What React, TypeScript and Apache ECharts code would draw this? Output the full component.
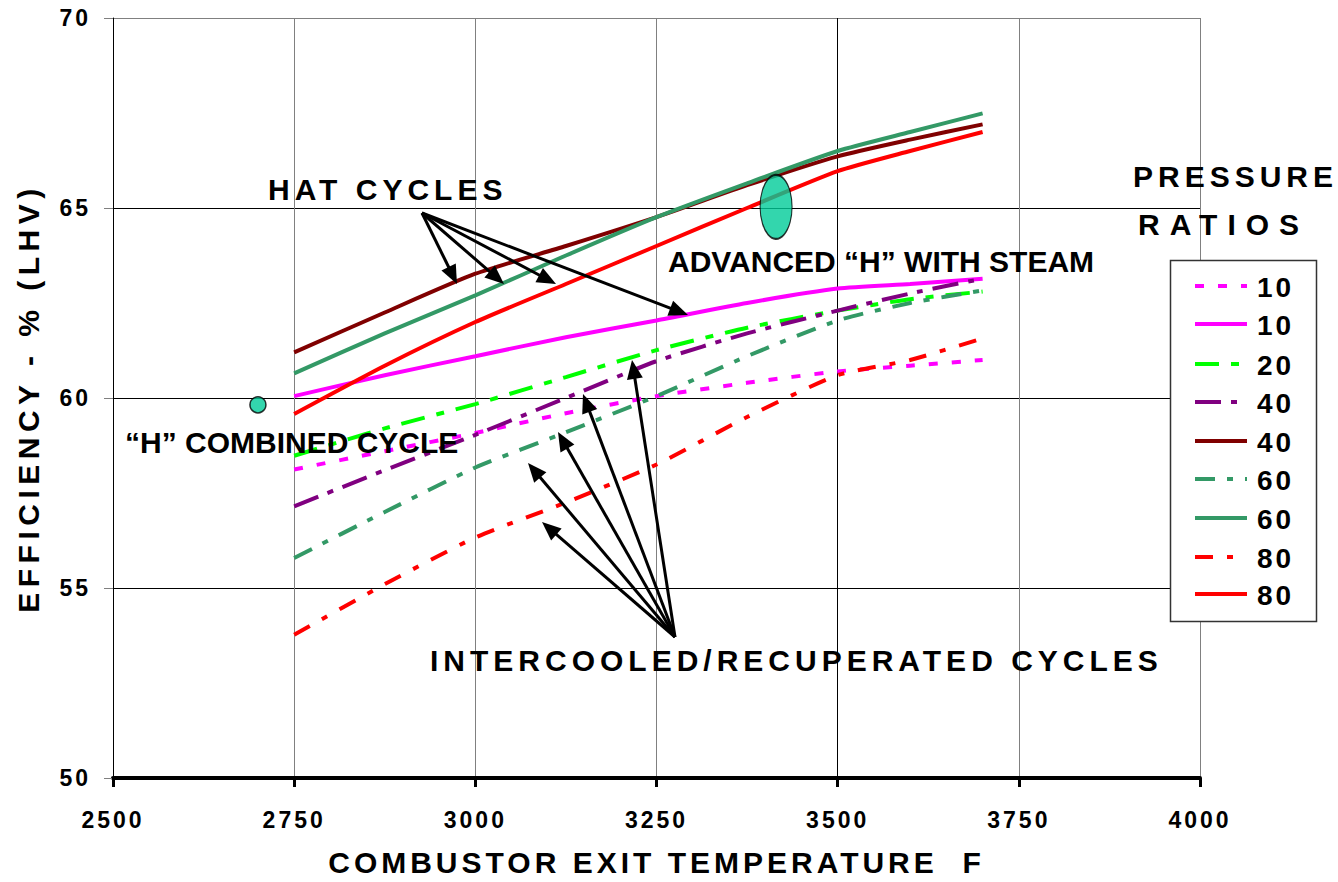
import React, { useEffect, useRef } from "react";
import * as echarts from "echarts";

// ---- data ----
const temps = [2750, 2875, 3000, 3125, 3250, 3375, 3500, 3600, 3700];
const ic10 = [58.12, 58.6, 59.08, 59.6, 60.05, 60.4, 60.7, 60.85, 61.0];
const hat10 = [60.05, 60.6, 61.1, 61.6, 62.04, 62.5, 62.88, 63.0, 63.14];
const ic20 = [58.48, 59.2, 59.84, 60.55, 61.26, 61.85, 62.3, 62.6, 62.8];
const ic40 = [57.15, 58.1, 59.03, 60.0, 60.97, 61.7, 62.3, 62.75, 63.14];
const hat40 = [61.2, 62.25, 63.27, 64.0, 64.76, 65.6, 66.36, 66.8, 67.2];
const ic60 = [55.79, 57.0, 58.17, 59.1, 60.05, 61.1, 62.04, 62.5, 62.83];
const hat60 = [60.65, 61.7, 62.7, 63.75, 64.76, 65.65, 66.5, 67.0, 67.49];
const ic80 = [53.77, 55.1, 56.33, 57.25, 58.25, 59.5, 60.6, 61.0, 61.57];
const hat80 = [59.58, 60.85, 62.0, 63.0, 64.0, 65.0, 65.97, 66.5, 67.0];

const legendNames = ["10", "10", "20", "40", "40", "60", "60", "80", "80"];
const seriesValues = [ic10, hat10, ic20, ic40, hat40, ic60, hat60, ic80, hat80];
const seriesColors = ["#FF00FF", "#FF00FF", "#00FF00", "#800080", "#800000", "#339966", "#339966", "#FF0000", "#FF0000"];
const seriesDash: (number[] | "solid")[] = [
  [9, 14], "solid", [24, 12, 8, 12], [26, 10, 6, 10], "solid", [20, 12, 6, 12], "solid", [18, 14, 6, 14], "solid",
];

const hCombined = [2700, 59.82];
const advancedH = [3415, 65.03];

const xMin = 2500, xMax = 4000, xStep = 250;
const yMin = 50, yMax = 70, yStep = 5;

const FONT = "Liberation Sans, Arial, sans-serif";

const spacing: Record<string, number> = {
  "HAT CYCLES": 5,
  "INTERCOOLED/RECUPERATED CYCLES": 5,
  "PRESSURE": 5,
  "RATIOS": 10,
  "EFFICIENCY - % (LHV)": 5.5,
  "COMBUSTOR EXIT TEMPERATURE  F": 4,
  "2500": 3, "2750": 3, "3000": 3, "3250": 3, "3500": 3, "3750": 3, "4000": 3,
  "50": 3, "55": 3, "60": 3, "65": 3, "70": 3, "10": 3, "20": 3, "40": 3, "80": 3,
};

function arrow(x1: number, y1: number, x2: number, y2: number) {
  const dx = x2 - x1, dy = y2 - y1;
  const len = Math.sqrt(dx * dx + dy * dy);
  const ux = dx / len, uy = dy / len;
  const hl = 19, hw = 8;
  const bx = x2 - ux * hl, by = y2 - uy * hl;
  return [
    { type: "line", shape: { x1, y1, x2: bx + ux * 2, y2: by + uy * 2 }, style: { stroke: "#000", lineWidth: 3 }, z: 50 },
    {
      type: "polygon",
      shape: { points: [[x2, y2], [bx - uy * hw, by + ux * hw], [bx + uy * hw, by - ux * hw]] },
      style: { fill: "#000" },
      z: 50,
    },
  ];
}

export default function App() {
  const ref = useRef<HTMLDivElement>(null);
  useEffect(() => {
    document.body.style.margin = "0";
    const el = ref.current!;
    const chart = echarts.init(el, undefined, { renderer: "svg" });

    const series: any[] = seriesValues.map((vals, i) => ({
      type: "line",
      name: legendNames[i],
      data: temps.map((t, j) => [t, vals[j]]),
      showSymbol: false,
      smooth: 0.2,
      lineStyle: { color: seriesColors[i], width: 4, type: seriesDash[i], cap: "butt" },
      itemStyle: { color: seriesColors[i] },
      z: 3,
    }));
    series.push({
      type: "scatter",
      data: [hCombined],
      symbol: "circle",
      symbolSize: 16,
      itemStyle: { color: "#00CC99", borderColor: "#000", borderWidth: 1.5 },
      z: 6,
    });
    series.push({
      type: "scatter",
      data: [advancedH],
      symbol: "circle",
      symbolSize: [32, 64],
      itemStyle: { color: "#00CC99", borderColor: "#000", borderWidth: 1.5 },
      z: 6,
    });

    const texts = (t: string, x: number, y: number, size: number) => ({
      type: "text",
      x,
      y,
      z: 60,
      style: { text: t, fill: "#000", font: `bold ${size}px ${FONT}`, align: "left", verticalAlign: "middle" },
    });

    const legendRows = [286, 324, 364, 402, 441, 479, 518, 557, 594];
    const legendGraphics: any[] = [
      { type: "rect", shape: { x: 1170.5, y: 260.5, width: 146, height: 361 }, style: { fill: "#fff", stroke: "#333", lineWidth: 1.5 }, z: 40 },
    ];
    legendRows.forEach((ry, i) => {
      legendGraphics.push({
        type: "line",
        shape: { x1: 1195, y1: ry, x2: 1247, y2: ry },
        style: { stroke: seriesColors[i], lineWidth: 4, lineDash: seriesDash[i] === "solid" ? null : seriesDash[i], lineCap: "butt" },
        z: 41,
      });
      legendGraphics.push(texts(legendNames[i], 1257, ry + 1, 28));
    });

    const arrows: any[] = [
      ...arrow(422, 213, 457, 284),
      ...arrow(422, 213, 504, 284),
      ...arrow(422, 213, 556, 284),
      ...arrow(422, 213, 688, 315),
      ...arrow(675, 637, 542, 522),
      ...arrow(675, 637, 528, 463),
      ...arrow(675, 637, 558, 432),
      ...arrow(675, 637, 583, 394),
      ...arrow(675, 637, 632, 360),
    ];

    chart.setOption({
      animation: false,
      backgroundColor: "#fff",
      grid: { left: 113, right: 138, top: 18, bottom: 100, containLabel: false },
      xAxis: {
        type: "value",
        min: xMin,
        max: xMax,
        interval: xStep,
        name: "COMBUSTOR EXIT TEMPERATURE  F",
        nameLocation: "middle",
        nameGap: 69,
        nameTextStyle: { fontFamily: FONT, fontWeight: "bold", fontSize: 30, color: "#000" },
        axisLine: { show: true, onZero: false, lineStyle: { color: "#000", width: 4 } },
        axisTick: { show: true, length: 9, lineStyle: { color: "#000", width: 3 } },
        axisLabel: { fontFamily: FONT, fontWeight: "bold", fontSize: 23, color: "#000", margin: 30, formatter: (v: number) => String(v) },
        splitLine: { show: true, lineStyle: { color: ["#000", "#808080", "#808080", "#808080", "#000", "#808080", "#808080"], width: 1 } },
      },
      yAxis: {
        type: "value",
        min: yMin,
        max: yMax,
        interval: yStep,
        name: "EFFICIENCY - % (LHV)",
        nameLocation: "middle",
        nameGap: 70,
        nameTextStyle: { fontFamily: FONT, fontWeight: "bold", fontSize: 30, color: "#000" },
        axisLine: { show: true, lineStyle: { color: "#000", width: 1 } },
        axisTick: { show: true, length: 9, lineStyle: { color: "#808080", width: 1 } },
        axisLabel: { fontFamily: FONT, fontWeight: "bold", fontSize: 23, color: "#000", margin: 22, formatter: (v: number) => String(v) },
        splitLine: { show: true, lineStyle: { color: ["#000", "#000", "#000", "#000", "#808080"], width: 1 } },
      },
      series,
      graphic: [
        texts("HAT CYCLES", 268, 189, 30),
        texts("ADVANCED “H” WITH STEAM", 668, 261, 30),
        texts("“H” COMBINED CYCLE", 125, 442, 30),
        texts("INTERCOOLED/RECUPERATED CYCLES", 430, 660, 30),
        texts("PRESSURE", 1133, 176, 30),
        texts("RATIOS", 1138, 224, 30),
        ...legendGraphics,
        ...arrows,
      ],
    });

    const apply = () => {
      el.querySelectorAll("text").forEach((t) => {
        const s = spacing[(t.textContent || "").trim()];
        if (s != null) t.setAttribute("letter-spacing", String(s));
      });
    };
    apply();
    chart.on("finished", apply);
    const tm = setTimeout(apply, 50);
    return () => {
      clearTimeout(tm);
      chart.dispose();
    };
  }, []);
  return <div ref={ref} style={{ width: 1338, height: 882, position: "absolute", left: 0, top: 0 }} />;
}
